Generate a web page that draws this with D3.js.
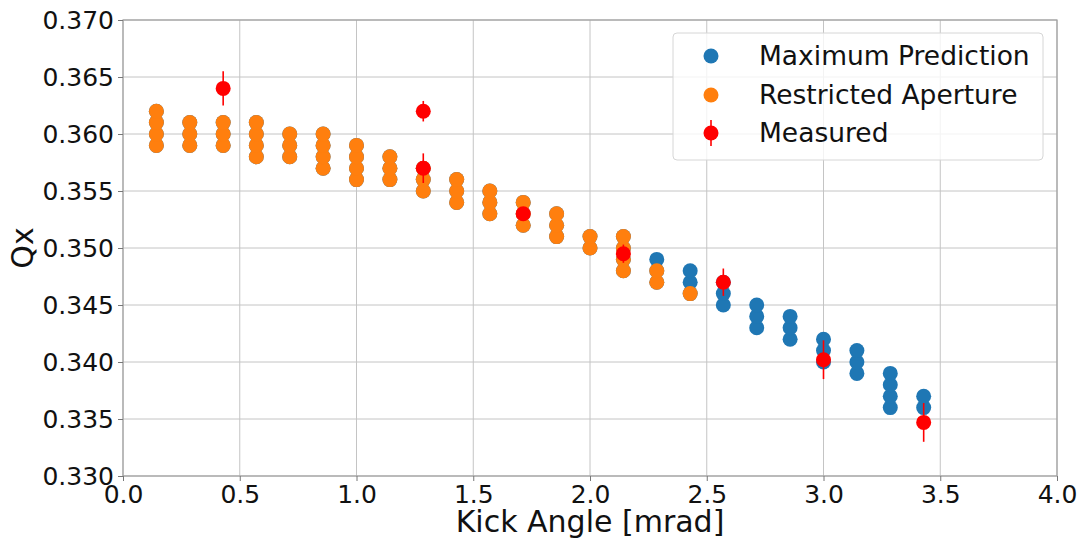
<!DOCTYPE html>
<html>
<head>
<meta charset="utf-8">
<script src="https://cdn.jsdelivr.net/npm/d3@7"></script>
<style>
  html, body { margin: 0; padding: 0; background: #fff; }
  svg { display: block; font-family: "DejaVu Sans", sans-serif; }
</style>
</head>
<body>
<svg id="chart" width="1081" height="538"></svg>
<script>
// Kick angles [mrad] of each scan step
const kickAngles = [0.143, 0.286, 0.429, 0.571, 0.714, 0.857, 1.000, 1.143,
                    1.286, 1.429, 1.571, 1.714, 1.857, 2.000, 2.143, 2.286,
                    2.429, 2.571, 2.714, 2.857, 3.000, 3.143, 3.286, 3.429];

// Simulated tunes per kick angle (one list per angle)
const maxPredictionQx = [
  [0.359, 0.360, 0.361, 0.362], [0.359, 0.360, 0.361], [0.359, 0.360, 0.361],
  [0.358, 0.359, 0.360, 0.361], [0.358, 0.359, 0.360], [0.357, 0.358, 0.359, 0.360],
  [0.356, 0.357, 0.358, 0.359], [0.356, 0.357, 0.358], [0.355, 0.356, 0.357],
  [0.354, 0.355, 0.356], [0.353, 0.354, 0.355], [0.352, 0.353, 0.354],
  [0.351, 0.352, 0.353], [0.350, 0.351], [0.348, 0.349, 0.350, 0.351],
  [0.347, 0.348, 0.349], [0.346, 0.347, 0.348], [0.345, 0.346, 0.347],
  [0.343, 0.344, 0.345], [0.342, 0.343, 0.344], [0.340, 0.341, 0.342],
  [0.339, 0.340, 0.341], [0.336, 0.337, 0.338, 0.339], [0.336, 0.337]
];
const restrictedApertureQx = [
  [0.359, 0.360, 0.361, 0.362], [0.359, 0.360, 0.361], [0.359, 0.360, 0.361],
  [0.358, 0.359, 0.360, 0.361], [0.358, 0.359, 0.360], [0.357, 0.358, 0.359, 0.360],
  [0.356, 0.357, 0.358, 0.359], [0.356, 0.357, 0.358], [0.355, 0.356, 0.357],
  [0.354, 0.355, 0.356], [0.353, 0.354, 0.355], [0.352, 0.353, 0.354],
  [0.351, 0.352, 0.353], [0.350, 0.351], [0.348, 0.349, 0.350, 0.351],
  [0.347, 0.348], [0.346]
];

// Measured tunes with uncertainties
const measuredKick = [0.429, 1.286, 1.286, 1.714, 2.143, 2.571, 3.000, 3.429];
const measuredQx   = [0.3640, 0.3620, 0.3570, 0.3530, 0.3495, 0.3470, 0.3402, 0.3347];
const measuredErr  = [0.0015, 0.0009, 0.0013, 0.0005, 0.0008, 0.0012, 0.0017, 0.0017];

const xTicks = [0.0, 0.5, 1.0, 1.5, 2.0, 2.5, 3.0, 3.5, 4.0];
const yTicks = [0.330, 0.335, 0.340, 0.345, 0.350, 0.355, 0.360, 0.365, 0.370];

const seriesNames = ["Maximum Prediction", "Restricted Aperture", "Measured"];
const seriesColors = ["#1f77b4", "#ff7f0e", "#ff0000"];

const plot = { left: 123, right: 1057, top: 20, bottom: 476 };
const svg = d3.select("#chart");

const x = d3.scaleLinear().domain([0, 4]).range([plot.left, plot.right]);
const y = d3.scaleLinear().domain([0.330, 0.370]).range([plot.bottom, plot.top]);

// grid
const grid = svg.append("g").attr("stroke", "#c4c4c4").attr("stroke-width", 1);
grid.selectAll(".gx").data(xTicks).join("line")
  .attr("x1", d => x(d)).attr("x2", d => x(d))
  .attr("y1", plot.top).attr("y2", plot.bottom);
grid.selectAll(".gy").data(yTicks).join("line")
  .attr("x1", plot.left).attr("x2", plot.right)
  .attr("y1", d => y(d)).attr("y2", d => y(d));

// frame
svg.append("rect")
  .attr("x", plot.left).attr("y", plot.top)
  .attr("width", plot.right - plot.left).attr("height", plot.bottom - plot.top)
  .attr("fill", "none").attr("stroke", "#a0a0a0").attr("stroke-width", 1.2);

// axes
const xAxis = d3.axisBottom(x).tickValues(xTicks).tickFormat(d3.format(".1f"))
  .tickSize(5).tickPadding(4);
const yAxis = d3.axisLeft(y).tickValues(yTicks).tickFormat(d3.format(".3f"))
  .tickSize(5).tickPadding(4);

const gx = svg.append("g").attr("transform", `translate(0,${plot.bottom})`).call(xAxis);
const gy = svg.append("g").attr("transform", `translate(${plot.left},0)`).call(yAxis);
[gx, gy].forEach(g => {
  g.select(".domain").remove();
  g.selectAll(".tick line").attr("stroke", "#777");
  g.selectAll(".tick text").attr("fill", "#111")
    .style("font-size", "25px").style("font-family", "DejaVu Sans, sans-serif");
});

// axis titles
svg.append("text")
  .attr("x", (plot.left + plot.right) / 2).attr("y", 532)
  .attr("text-anchor", "middle").attr("fill", "#111")
  .style("font-size", "30px").text("Kick Angle [mrad]");
svg.append("text")
  .attr("transform", `translate(33,${(plot.top + plot.bottom) / 2}) rotate(-90)`)
  .attr("text-anchor", "middle").attr("fill", "#111")
  .style("font-size", "30px").text("Qx");

// flatten per-angle lists into points
function toPoints(lists) {
  const pts = [];
  lists.forEach((vals, i) => vals.forEach(v => pts.push({ k: kickAngles[i], q: v })));
  return pts;
}

const R = 7.5;
svg.append("g").selectAll("circle").data(toPoints(maxPredictionQx)).join("circle")
  .attr("cx", d => x(d.k)).attr("cy", d => y(d.q)).attr("r", R)
  .attr("fill", seriesColors[0]);
svg.append("g").selectAll("circle").data(toPoints(restrictedApertureQx)).join("circle")
  .attr("cx", d => x(d.k)).attr("cy", d => y(d.q)).attr("r", R)
  .attr("fill", seriesColors[1]);

const measured = measuredKick.map((k, i) => ({ k, q: measuredQx[i], e: measuredErr[i] }));
const mg = svg.append("g");
mg.selectAll("line").data(measured).join("line")
  .attr("x1", d => x(d.k)).attr("x2", d => x(d.k))
  .attr("y1", d => y(d.q - d.e)).attr("y2", d => y(d.q + d.e))
  .attr("stroke", seriesColors[2]).attr("stroke-width", 1.6);
mg.selectAll("circle").data(measured).join("circle")
  .attr("cx", d => x(d.k)).attr("cy", d => y(d.q)).attr("r", R)
  .attr("fill", seriesColors[2]);

// legend
const lg = svg.append("g");
lg.append("rect")
  .attr("x", 673).attr("y", 33).attr("width", 370).attr("height", 127)
  .attr("rx", 4).attr("fill", "#fff").attr("fill-opacity", 0.8)
  .attr("stroke", "#d6d6d6").attr("stroke-width", 1);
const rowY = [56, 95, 133];
seriesNames.forEach((name, i) => {
  if (i === 2) {
    lg.append("line").attr("x1", 711).attr("x2", 711)
      .attr("y1", rowY[i] - 13).attr("y2", rowY[i] + 13)
      .attr("stroke", seriesColors[2]).attr("stroke-width", 1.6);
  }
  lg.append("circle").attr("cx", 711).attr("cy", rowY[i]).attr("r", R)
    .attr("fill", seriesColors[i]);
  lg.append("text").attr("x", 759).attr("y", rowY[i]).attr("dy", "0.35em")
    .attr("fill", "#111").style("font-size", "26.5px").text(name);
});
</script>
</body>
</html>
